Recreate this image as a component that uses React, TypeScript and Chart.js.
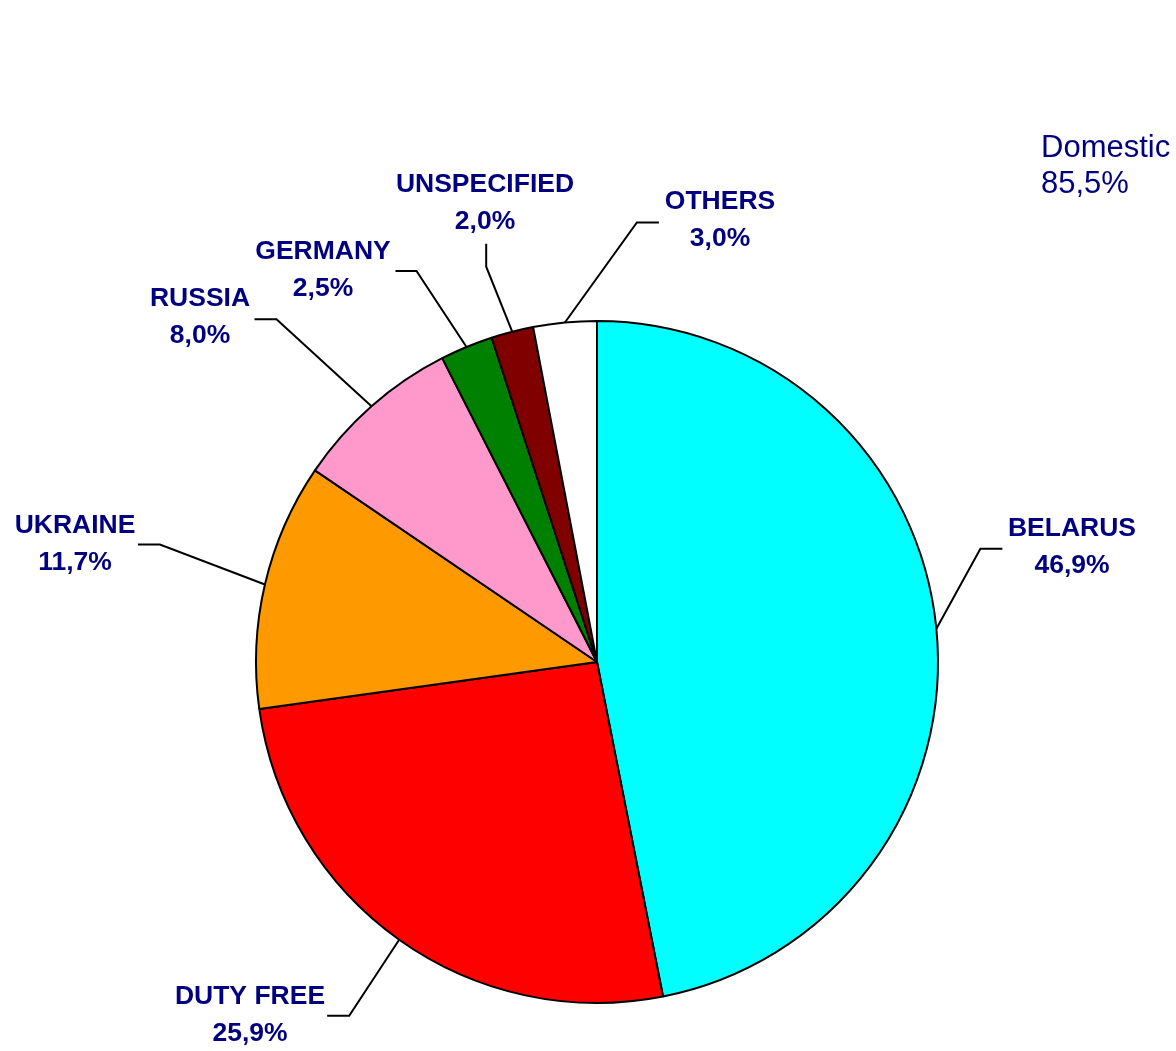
import React, { useEffect, useRef } from "react";
import { Chart, registerables } from "chart.js";

Chart.register(...registerables);

// ---- data ----
const categories = ["BELARUS", "DUTY FREE", "UKRAINE", "RUSSIA", "GERMANY", "UNSPECIFIED", "OTHERS"];
const shares = [46.9, 25.9, 11.7, 8.0, 2.5, 2.0, 3.0];
const sliceColors = ["#00FFFF", "#FF0000", "#FF9900", "#FF99CC", "#008000", "#800000", "#FFFFFF"];
const domesticLabel = "Domestic";
const domesticShare = 85.5;

// ---- label layout (leader-line elbow offsets from slice edge, tail, and label block centres) ----
const elbowOffsets: [number, number][] = [
  [44, -80], [-50, 76], [-105, -40], [-95, -87], [-50, -76], [-26, -65], [72, -100],
];
const tailOffsets: [number, number][] = [
  [22, 0], [-22, 0], [-22, 0], [-22, 0], [-21, 0], [0, -23], [22, 0],
];
const labelCenters: [number, number][] = [
  [1072, 547], [250, 1015], [75, 544], [200, 317], [323, 270], [485, 203], [720, 220],
];

const fmt = (v: number) => v.toFixed(1).replace(".", ",") + "%";

const labelPlugin = {
  id: "leaderLabels",
  afterDraw(chart: any) {
    const ctx = chart.ctx as CanvasRenderingContext2D;
    const meta = chart.getDatasetMeta(0);
    ctx.save();
    meta.data.forEach((arc: any, i: number) => {
      const { x, y, startAngle, endAngle, outerRadius } = arc.getProps(
        ["x", "y", "startAngle", "endAngle", "outerRadius"], true
      );
      const mid = (startAngle + endAngle) / 2;
      const px = x + Math.cos(mid) * outerRadius;
      const py = y + Math.sin(mid) * outerRadius;
      const ex = px + elbowOffsets[i][0];
      const ey = py + elbowOffsets[i][1];
      const tx = ex + tailOffsets[i][0];
      const ty = ey + tailOffsets[i][1];
      ctx.strokeStyle = "#000000";
      ctx.lineWidth = 2;
      ctx.beginPath();
      ctx.moveTo(px, py);
      ctx.lineTo(ex, ey);
      ctx.lineTo(tx, ty);
      ctx.stroke();

      const [cx, cy] = labelCenters[i];
      ctx.fillStyle = "#000080";
      ctx.font = "bold 26.5px 'Liberation Sans', Arial, sans-serif";
      ctx.textAlign = "center";
      ctx.textBaseline = "middle";
      ctx.fillText(categories[i], cx, cy - 18.5);
      ctx.fillText(fmt(shares[i]), cx, cy + 18.5);
    });

    ctx.fillStyle = "#000080";
    ctx.font = "31px 'Liberation Sans', Arial, sans-serif";
    ctx.textAlign = "left";
    ctx.textBaseline = "alphabetic";
    ctx.fillText(domesticLabel, 1041, 157);
    ctx.fillText(fmt(domesticShare), 1041, 193);
    ctx.restore();
  },
};

export default function App() {
  const ref = useRef<HTMLCanvasElement | null>(null);
  useEffect(() => {
    if (!ref.current) return;
    const chart = new Chart(ref.current, {
      type: "pie",
      data: {
        labels: categories,
        datasets: [
          {
            data: shares,
            backgroundColor: sliceColors,
            borderColor: "#000000",
            borderWidth: 2,
          },
        ],
      },
      options: {
        responsive: false,
        animation: false,
        devicePixelRatio: 1,
        layout: { padding: { left: 255, right: 237, top: 320, bottom: 47 } },
        plugins: { legend: { display: false }, tooltip: { enabled: false } },
      },
      plugins: [labelPlugin],
    } as any);
    return () => chart.destroy();
  }, []);
  return (
    <div style={{ position: "absolute", left: 0, top: 0, width: 1176, height: 1051, background: "#fff" }}>
      <canvas ref={ref} width={1176} height={1051} style={{ display: "block" }} />
    </div>
  );
}
